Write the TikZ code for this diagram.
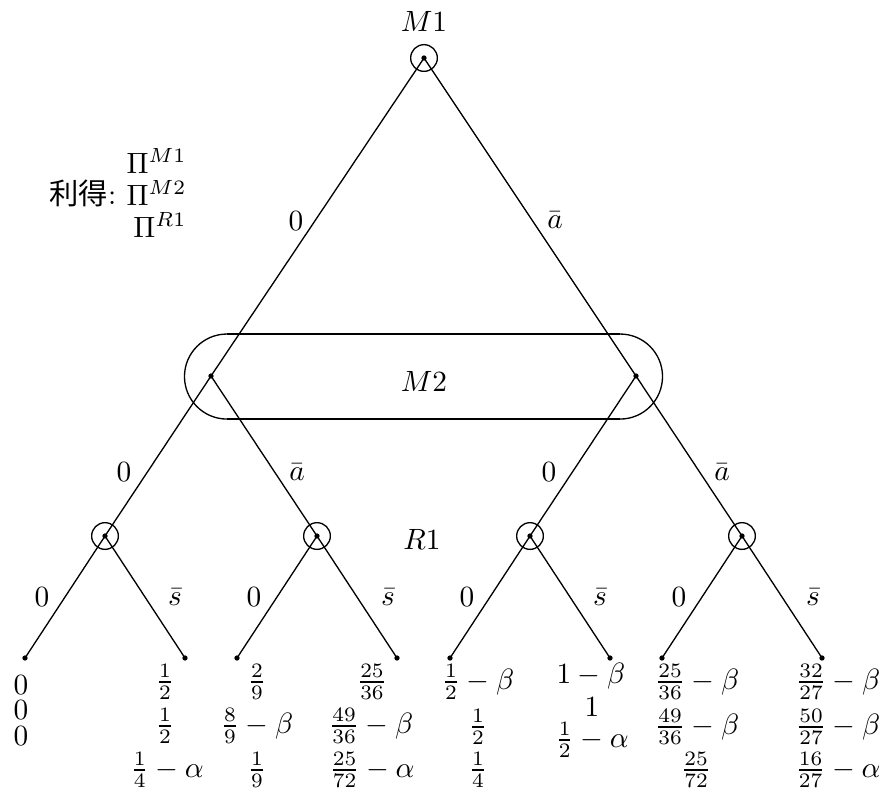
\documentclass[tikz,border=0pt]{standalone}
\usepackage{fontspec}
\newfontfamily\cjk{Noto Sans CJK JP}
\begin{document}
\begin{tikzpicture}[x=0.341pt,y=-0.341pt,
  dotnode/.style={circle,fill,inner sep=0pt,minimum size=1.8pt},
  ring/.style={draw,circle,minimum size=9.1pt,inner sep=0pt,line width=0.45pt},
  lab/.style={inner sep=0pt},
  edgeline/.style={line width=0.45pt},
  infoline/.style={line width=1pt}]
\useasboundingbox (0,0) rectangle (884,791);

% decision nodes
\node[dotnode] (m1) at (424,58) {};
\node[ring] (m1r) at (424,58) {};
\node[dotnode] (m2a) at (211,376) {};
\node[dotnode] (m2b) at (636,376) {};
\node[dotnode] (r1a) at (105,536) {};
\node[dotnode] (r1b) at (317,536) {};
\node[dotnode] (r1c) at (530,536) {};
\node[dotnode] (r1d) at (742,536) {};
\node[ring] (r1ar) at (105,536) {};
\node[ring] (r1br) at (317,536) {};
\node[ring] (r1cr) at (530,536) {};
\node[ring] (r1dr) at (742,536) {};
% leaves
\node[dotnode] (t1) at (25,658) {};
\node[dotnode] (t2) at (185,658) {};
\node[dotnode] (t3) at (237,658) {};
\node[dotnode] (t4) at (397,658) {};
\node[dotnode] (t5) at (450,658) {};
\node[dotnode] (t6) at (610,658) {};
\node[dotnode] (t7) at (662,658) {};
\node[dotnode] (t8) at (822,658) {};

% edges
\draw[edgeline] (m1.center) -- (m2a.center);
\draw[edgeline] (m1.center) -- (m2b.center);
\draw[edgeline] (m2a.center) -- (r1a.center);
\draw[edgeline] (m2a.center) -- (r1b.center);
\draw[edgeline] (m2b.center) -- (r1c.center);
\draw[edgeline] (m2b.center) -- (r1d.center);
\draw[edgeline] (r1a.center) -- (t1.center);
\draw[edgeline] (r1a.center) -- (t2.center);
\draw[edgeline] (r1b.center) -- (t3.center);
\draw[edgeline] (r1b.center) -- (t4.center);
\draw[edgeline] (r1c.center) -- (t5.center);
\draw[edgeline] (r1c.center) -- (t6.center);
\draw[edgeline] (r1d.center) -- (t7.center);
\draw[edgeline] (r1d.center) -- (t8.center);

% information set of M2
\draw[infoline] (227,334) -- (620,334);
\draw[infoline] (227,419) -- (620,419);
\draw[edgeline] (227,334) arc[start angle=90,end angle=270,radius=14.5pt];
\draw[edgeline] (620,334) arc[start angle=90,end angle=-90,radius=14.5pt];

% player labels
\node[lab] (lm1) at (424,21) {$M1$};
\node[lab] (lm2) at (424,381) {$M2$};
\node[lab] (lr1) at (422,539) {$R1$};

% edge labels
\node[lab] (e1) at (296,221) {$0$};
\node[lab] (e2) at (555,220) {$\bar a$};
\node[lab] (e3) at (124,472) {$0$};
\node[lab] (e4) at (297,472) {$\bar a$};
\node[lab] (e5) at (549,472) {$0$};
\node[lab] (e6) at (722,472) {$\bar a$};
\node[lab] (e7) at (42,597) {$0$};
\node[lab] (e8) at (175,597) {$\bar s$};
\node[lab] (e9) at (254,597) {$0$};
\node[lab] (e10) at (388,597) {$\bar s$};
\node[lab] (e11) at (467,597) {$0$};
\node[lab] (e12) at (600,597) {$\bar s$};
\node[lab] (e13) at (679,597) {$0$};
\node[lab] (e14) at (813,597) {$\bar s$};

% payoff legend
\node[lab] (legend) at (83,193) {{\cjk 利得}:};
\node[lab,anchor=east] (pi1) at (187,161) {$\Pi^{M1}$};
\node[lab,anchor=east] (pi2) at (187,193) {$\Pi^{M2}$};
\node[lab,anchor=east] (pi3) at (187,225) {$\Pi^{R1}$};

% payoffs
\node[lab] (p11) at (21,685) {$0$};
\node[lab] (p12) at (21,710) {$0$};
\node[lab] (p13) at (21,736) {$0$};

\node[lab] (p21) at (165,682) {$\frac{1}{2}$};
\node[lab] (p22) at (165,726) {$\frac{1}{2}$};
\node[lab] (p23) at (167,770) {$\frac{1}{4}-\alpha$};

\node[lab] (p31) at (257,682) {$\frac{2}{9}$};
\node[lab] (p32) at (257,726) {$\frac{8}{9}-\beta$};
\node[lab] (p33) at (257,770) {$\frac{1}{9}$};

\node[lab] (p41) at (372,682) {$\frac{25}{36}$};
\node[lab] (p42) at (371,726) {$\frac{49}{36}-\beta$};
\node[lab] (p43) at (372,770) {$\frac{25}{72}-\alpha$};

\node[lab] (p51) at (478,682) {$\frac{1}{2}-\beta$};
\node[lab] (p52) at (478,727) {$\frac{1}{2}$};
\node[lab] (p53) at (478,770) {$\frac{1}{4}$};

\node[lab] (p61) at (591,676) {$1-\beta$};
\node[lab] (p62) at (592,707) {$1$};
\node[lab] (p63) at (592,740) {$\frac{1}{2}-\alpha$};

\node[lab] (p71) at (697,682) {$\frac{25}{36}-\beta$};
\node[lab] (p72) at (697,727) {$\frac{49}{36}-\beta$};
\node[lab] (p73) at (696,770) {$\frac{25}{72}$};

\node[lab] (p81) at (838,682) {$\frac{32}{27}-\beta$};
\node[lab] (p82) at (838,727) {$\frac{50}{27}-\beta$};
\node[lab] (p83) at (838,770) {$\frac{16}{27}-\alpha$};
\end{tikzpicture}
\end{document}
